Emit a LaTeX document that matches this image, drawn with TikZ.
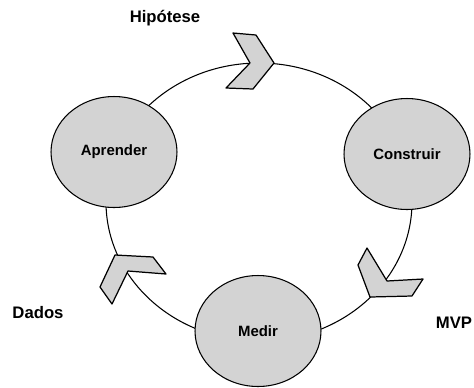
\documentclass[tikz,border=0pt]{standalone}
\usepackage{fontspec}
\setmainfont{Liberation Sans}
\usetikzlibrary{shapes.geometric}
\definecolor{phasegray}{RGB}{211,211,211}
\begin{document}
\begin{tikzpicture}[x=0.02cm, y=-0.02cm]
    \tikzset{phase/.style={ellipse, draw, line width=0.6pt, fill=phasegray, minimum width=2.52cm, minimum height=2.22cm, inner sep=0pt, font=\fontsize{8.5}{10}\selectfont\bfseries},
             tag/.style={font=\fontsize{9.5}{11}\selectfont\bfseries, inner sep=0pt},
             chevron/.style={draw, line width=0.7pt, fill=phasegray, line join=round}}
    \useasboundingbox (0,0) rectangle (474,387);
    % ciclo
    \coordinate (hub) at (259,202);
    \draw[line width=0.6pt] (hub) ellipse [x radius=153, y radius=139];
    % setas
    \draw[chevron] (233,33) -- (256,35) -- (274,63) -- (253,89) -- (226,88) -- (250,63) -- cycle;
    \draw[chevron] (367,248) -- (358,265) -- (370,297) -- (412,296) -- (423,279) -- (387,281) -- cycle;
    \draw[chevron] (115,255) -- (153,257) -- (166,274) -- (128,271) -- (112,304) -- (100,287) -- cycle;
    % fases
    \node[phase] (aprender) at (114,152) {Aprender};
    \node[phase] (construir) at (407,154) {Construir};
    \node[phase] (medir) at (258,331) {Medir};
    % rotulos
    \node[tag] (hipotese) at (165,18) {Hipótese};
    \node[tag] (dados) at (38,313) {Dados};
    \node[tag] (mvp) at (454,323) {MVP};
\end{tikzpicture}
\end{document}
